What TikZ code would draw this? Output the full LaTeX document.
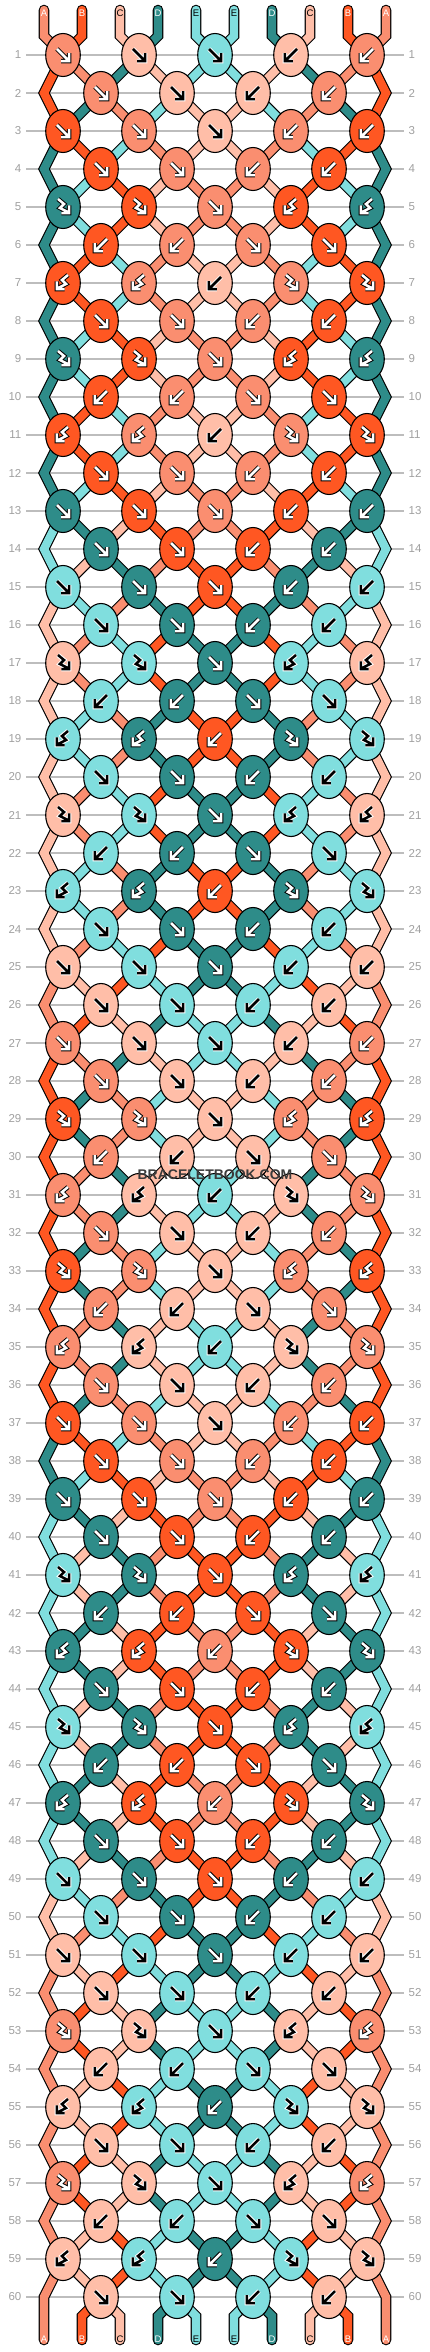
\documentclass[tikz,border=0pt]{standalone}
\usepackage{fontspec}
\setmainfont{Liberation Sans}
\definecolor{cA}{HTML}{FA8E70}
\definecolor{cB}{HTML}{FF5722}
\definecolor{cC}{HTML}{FFBEA8}
\definecolor{cD}{HTML}{2E8C89}
\definecolor{cE}{HTML}{80DEDE}
\definecolor{gridc}{HTML}{BDBDBD}
\definecolor{numc}{HTML}{A0A0A0}
\definecolor{wmk}{HTML}{3A3A3A}
\newcommand\scol[1]{\ifcase#1 cA\or cB\or cC\or cD\or cE\or cE\or cD\or cC\or cB\or cA\fi}
\newcommand\acol[1]{\ifcase#1 white\or white\or black\or white\or black\or black\or white\or black\or white\or white\fi}
\newcommand\ocol[1]{\ifcase#1 black\or black\or white\or black\or white\or white\or black\or white\or black\or black\fi}
\newcommand\slab[1]{\ifcase#1 A\or B\or C\or D\or E\or E\or D\or C\or B\or A\fi}
\tikzset{
  gridline/.style={draw=gridc,line width=1.3},
  rownum/.style={text=numc,font=\fontsize{11.5}{12}\selectfont,inner sep=0pt},
  strout/.style={draw=black,line width=10.6,line cap=round,line join=miter},
  strin/.style={line width=8.4,line cap=round,line join=miter},
  knotshape/.style={draw=black,line width=1.1},
  arw/.style={line width=2.5,line cap=butt,line join=miter},
  arwo/.style={line width=4.5,line cap=butt,line join=miter},
  toplab/.style={font=\fontsize{9.5}{10}\selectfont,inner sep=0pt},
  wmark/.style={text=wmk,font=\bfseries\fontsize{14}{15}\selectfont,inner sep=0pt}
}
\newcommand\gF[1]{\draw[#1] (-6,-6) -- (5.3,5.3) (-1.8,6.2) -- (6.2,6.2) -- (6.2,-1.8);}
\newcommand\gB[1]{\draw[#1] (6,-6) -- (-5.3,5.3) (1.8,6.2) -- (-6.2,6.2) -- (-6.2,-1.8);}
\newcommand\gX[1]{\draw[#1] (-5,-8) -- (1,-3) -- (-3,1) -- (5.3,5.3) (-1.6,6.2) -- (6.2,6.2) -- (6.2,-1.6);}
\newcommand\gY[1]{\draw[#1] (5,-8) -- (-1,-3) -- (3,1) -- (-5.3,5.3) (1.6,6.2) -- (-6.2,6.2) -- (-6.2,-1.6);}
\newcommand\knotdraw[4]{%
  \edef\kcol{\scol{#3}}\edef\kgc{\acol{#3}}\edef\kgo{\ocol{#3}}%
  \path[knotshape,fill=\kcol] (#1,#2) ellipse [x radius=17.3,y radius=21.5];
  \begin{scope}[shift={(#1,#2)}]
    \csname g#4\endcsname{arwo,draw=\kgo}%
    \csname g#4\endcsname{arw,draw=\kgc}%
  \end{scope}}
\begin{document}
\begin{tikzpicture}[x=1pt,y=-1pt]
\useasboundingbox (0,0) rectangle (430,2352);
\fill[white] (0,0) rectangle (430,2352);
% grid lines and row numbers
\foreach \rr in {1,...,60}{%
  \pgfmathtruncatemacro\yy{55+38*(\rr-1)}%
  \draw[gridline] (26,\yy) -- (404,\yy);
  \node[rownum,anchor=east] (nl\rr) at (21.5,\yy) {\rr};
  \node[rownum,anchor=west] (nr\rr) at (408.5,\yy) {\rr};
}
% simulation
\foreach \p in {0,...,9}{%
  \pgfmathtruncatemacro\xx{44+38*\p}%
  \expandafter\xdef\csname st\p\endcsname{\p}%
  \expandafter\xdef\csname pa\p\endcsname{(\xx,10) -- (\xx,36)}%
}
\gdef\knotlist{}
\foreach \rr in {1,...,60}{%
  \pgfmathtruncatemacro\yy{55+38*(\rr-1)}%
  \pgfmathtruncatemacro\odd{mod(\rr,2)}%
  \ifnum\rr<5 \def\rt{V}\else
    \pgfmathtruncatemacro\mm{mod(\rr-5,12)}%
    \ifcase\mm \def\rt{X}\or\def\rt{W}\or\def\rt{Y}\or\def\rt{V}\or\def\rt{X}\or\def\rt{W}\or\def\rt{Y}\else\def\rt{V}\fi
  \fi
  \ifnum\odd=1
    \if\rt V\def\kts{F,F,F,B,B}\fi
    \if\rt X\def\kts{X,X,F,Y,Y}\fi
    \if\rt Y\def\kts{Y,Y,B,X,X}\fi
    \def\aoff{0}%
  \else
    \if\rt V\def\kts{F,F,B,B}\fi
    \if\rt W\def\kts{B,B,F,F}\fi
    \def\aoff{1}%
    \edef\kS{\csname st0\endcsname}%
    \expandafter\xdef\csname pa\kS\endcsname{\csname pa\kS\endcsname -- (44,\yy)}%
    \edef\kS{\csname st9\endcsname}%
    \expandafter\xdef\csname pa\kS\endcsname{\csname pa\kS\endcsname -- (386,\yy)}%
  \fi
  \foreach \kt [count=\j from 0] in \kts {%
    \pgfmathtruncatemacro\ka{2*\j+\aoff}%
    \pgfmathtruncatemacro\kb{\ka+1}%
    \pgfmathtruncatemacro\kx{63+38*\ka}%
    \edef\kSa{\csname st\ka\endcsname}%
    \edef\kSb{\csname st\kb\endcsname}%
    \expandafter\xdef\csname pa\kSa\endcsname{\csname pa\kSa\endcsname -- (\kx,\yy)}%
    \expandafter\xdef\csname pa\kSb\endcsname{\csname pa\kSb\endcsname -- (\kx,\yy)}%
    \def\kswap{0}%
    \if\kt F\edef\kc{\kSa}\def\kswap{1}\fi
    \if\kt X\edef\kc{\kSa}\fi
    \if\kt B\edef\kc{\kSb}\def\kswap{1}\fi
    \if\kt Y\edef\kc{\kSb}\fi
    \xdef\knotlist{\unexpanded\expandafter{\knotlist}\noexpand\knotdraw{\kx}{\yy}{\kc}{\kt}}%
    \ifnum\kswap=1
      \expandafter\xdef\csname st\ka\endcsname{\kSb}%
      \expandafter\xdef\csname st\kb\endcsname{\kSa}%
    \fi
  }%
}
\foreach \p in {0,...,9}{%
  \pgfmathtruncatemacro\xx{44+38*\p}%
  \edef\kS{\csname st\p\endcsname}%
  \expandafter\xdef\csname pa\kS\endcsname{\csname pa\kS\endcsname -- (\xx,2316) -- (\xx,2340)}%
}
% strings
\foreach \i in {0,...,9}{%
  \edef\tmp{\noexpand\draw[strout] \csname pa\i\endcsname;
    \noexpand\draw[strin,draw=\scol{\i}] \csname pa\i\endcsname;}%
  \tmp
}
% knots
\knotlist
% string labels
\foreach \p in {0,...,9}{%
  \pgfmathtruncatemacro\xx{44+38*\p}%
  \edef\lc{\acol{\p}}%
  \node[toplab,text=\lc] (tl\p) at (\xx,13) {\slab{\p}};
  \node[toplab,text=\lc] (bl\p) at (\xx,2339) {\slab{\p}};
}
\node[wmark] (wm) at (215,1175) {BRACELETBOOK.COM};
\end{tikzpicture}
\end{document}
